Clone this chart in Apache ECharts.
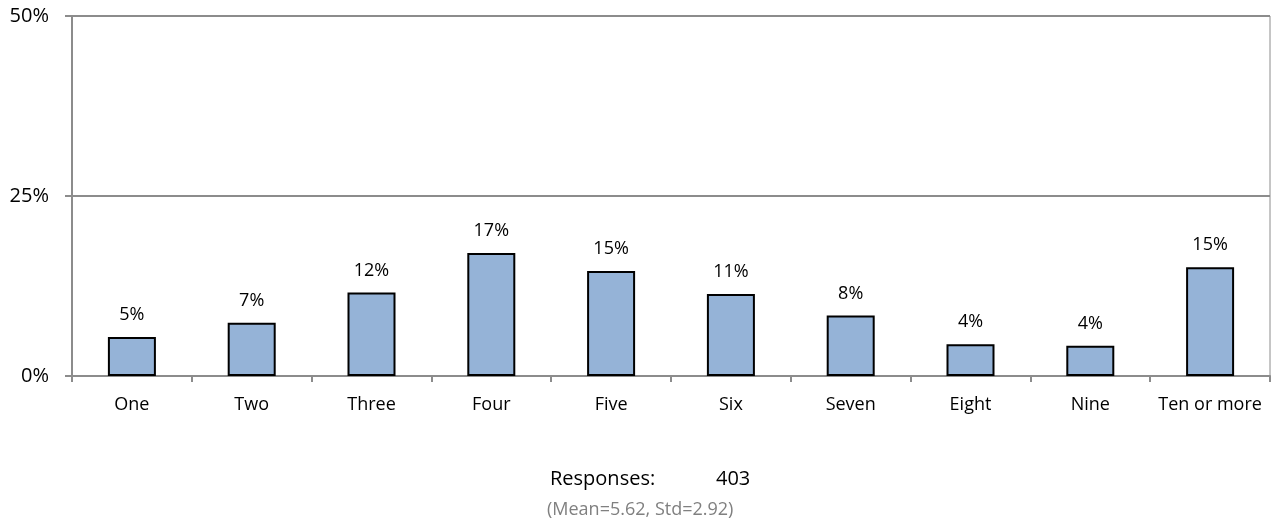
<!DOCTYPE html>
<html>
<head>
<meta charset="utf-8">
<script src="https://cdn.jsdelivr.net/npm/echarts@6/dist/echarts.min.js"></script>
<style>
  html, body { margin: 0; padding: 0; background: #fff; }
  #chart { width: 1272px; height: 527px; }
</style>
</head>
<body>
<div id="chart"></div>
<script>
  // categories and share of responses (%)
  var categories = ['One', 'Two', 'Three', 'Four', 'Five', 'Six', 'Seven', 'Eight', 'Nine', 'Ten or more'];
  var shares = [5.4, 7.4, 11.6, 17.1, 14.6, 11.4, 8.4, 4.4, 4.2, 15.1];
  var yTicks = [0, 25, 50];
  var responses = 403;
  var mean = 5.62;
  var std = 2.92;

  var font = '"Open Sans", "Liberation Sans", sans-serif';
  var chart = echarts.init(document.getElementById('chart'));
  chart.setOption({
    animation: false,
    grid: {
      left: 72,
      right: 2,
      top: 16,
      bottom: 151,
      show: true,
      borderColor: '#8c8c8c',
      borderWidth: 1
    },
    xAxis: {
      type: 'category',
      data: categories,
      axisLine: { lineStyle: { color: '#8c8c8c', width: 2 } },
      axisTick: { show: true, interval: 0, length: 6, lineStyle: { color: '#8c8c8c', width: 2 } },
      axisLabel: { interval: 0, color: '#000', fontSize: 18, fontFamily: font, margin: 20 }
    },
    yAxis: {
      type: 'value',
      min: yTicks[0],
      max: yTicks[yTicks.length - 1],
      interval: yTicks[1] - yTicks[0],
      axisLine: { show: true, lineStyle: { color: '#8c8c8c', width: 2 } },
      axisTick: { show: true, length: 7, lineStyle: { color: '#8c8c8c', width: 2 } },
      splitLine: { lineStyle: { color: '#8c8c8c', width: 2 } },
      axisLabel: { color: '#000', fontSize: 20, fontFamily: font, margin: 23, formatter: '{value}%' }
    },
    series: [{
      type: 'bar',
      data: shares,
      barWidth: 48,
      itemStyle: { color: '#95b3d7', borderColor: '#000', borderWidth: 2 },
      label: {
        show: true,
        position: 'top',
        distance: 13,
        color: '#000',
        fontSize: 18,
        fontFamily: font,
        formatter: function (p) { return Math.round(p.value) + '%'; }
      }
    }],
    graphic: [
      {
        type: 'text',
        left: 550,
        top: 469,
        style: { text: 'Responses:', fill: '#000', font: '20px ' + font }
      },
      {
        type: 'text',
        left: 716,
        top: 469,
        style: { text: String(responses), fill: '#000', font: '20px ' + font }
      },
      {
        type: 'text',
        left: 547,
        top: 501,
        style: { text: '(Mean=' + mean + ', Std=' + std + ')', fill: '#808080', font: '18px ' + font }
      }
    ]
  });
</script>
</body>
</html>
